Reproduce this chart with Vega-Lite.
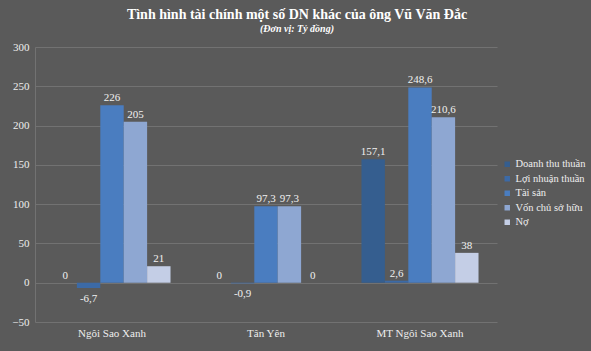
{
  "$schema": "https://vega.github.io/schema/vega-lite/v6.json",
  "width": 462,
  "height": 275,
  "autosize": {"type": "none"},
  "padding": {"left": 35, "top": 47, "right": 94, "bottom": 29},
  "background": "#5a5a5a",
  "config": {
    "view": {"stroke": null},
    "font": "Liberation Serif",
    "axis": {"labelFont": "Liberation Serif"},
    "legend": {"labelFont": "Liberation Serif"},
    "text": {"font": "Liberation Serif"},
    "title": {"font": "Liberation Serif", "subtitleFont": "Liberation Serif"}
  },
  "title": {
    "text": "Tình hình tài chính một số DN khác của ông Vũ Văn Đắc",
    "subtitle": "(Đơn vị: Tỷ đồng)",
    "fontSize": 14,
    "fontWeight": "bold",
    "color": "#ffffff",
    "subtitleFontSize": 10,
    "subtitleFontStyle": "italic",
    "subtitleFontWeight": "bold",
    "subtitleColor": "#ffffff",
    "subtitlePadding": 2,
    "anchor": "middle",
    "dx": 31,
    "offset": 7
  },
  "data": {
    "values": [
      {"company": "Ngôi Sao Xanh", "metric": "Doanh thu thuần", "value": 0, "label": "0"},
      {"company": "Ngôi Sao Xanh", "metric": "Lợi nhuận thuần", "value": -6.7, "label": "-6,7"},
      {"company": "Ngôi Sao Xanh", "metric": "Tài sản", "value": 226, "label": "226"},
      {"company": "Ngôi Sao Xanh", "metric": "Vốn chủ sở hữu", "value": 205, "label": "205"},
      {"company": "Ngôi Sao Xanh", "metric": "Nợ", "value": 21, "label": "21"},
      {"company": "Tân Yên", "metric": "Doanh thu thuần", "value": 0, "label": "0"},
      {"company": "Tân Yên", "metric": "Lợi nhuận thuần", "value": -0.9, "label": "-0,9"},
      {"company": "Tân Yên", "metric": "Tài sản", "value": 97.3, "label": "97,3"},
      {"company": "Tân Yên", "metric": "Vốn chủ sở hữu", "value": 97.3, "label": "97,3"},
      {"company": "Tân Yên", "metric": "Nợ", "value": 0, "label": "0"},
      {"company": "MT Ngôi Sao Xanh", "metric": "Doanh thu thuần", "value": 157.1, "label": "157,1"},
      {"company": "MT Ngôi Sao Xanh", "metric": "Lợi nhuận thuần", "value": 2.6, "label": "2,6"},
      {"company": "MT Ngôi Sao Xanh", "metric": "Tài sản", "value": 248.6, "label": "248,6"},
      {"company": "MT Ngôi Sao Xanh", "metric": "Vốn chủ sở hữu", "value": 210.6, "label": "210,6"},
      {"company": "MT Ngôi Sao Xanh", "metric": "Nợ", "value": 38, "label": "38"}
    ]
  },
  "encoding": {
    "x": {
      "field": "company",
      "type": "nominal",
      "sort": ["Ngôi Sao Xanh", "Tân Yên", "MT Ngôi Sao Xanh"],
      "scale": {"paddingInner": 0.24, "paddingOuter": 0.12},
      "axis": {
        "title": null,
        "labelAngle": 0,
        "labelFont": "Liberation Serif",
        "labelFontSize": 11,
        "labelColor": "#eeeeee",
        "labelPadding": 5,
        "ticks": false,
        "domain": false
      }
    },
    "xOffset": {
      "field": "metric",
      "type": "nominal",
      "sort": ["Doanh thu thuần", "Lợi nhuận thuần", "Tài sản", "Vốn chủ sở hữu", "Nợ"],
      "scale": {"paddingInner": 0, "paddingOuter": 0}
    },
    "y": {
      "field": "value",
      "type": "quantitative",
      "scale": {"domain": [-50, 300], "nice": false, "zero": true},
      "axis": {
        "title": null,
        "values": [-50, 0, 50, 100, 150, 200, 250, 300],
        "labelFont": "Liberation Serif",
        "labelFontSize": 11,
        "labelColor": "#eeeeee",
        "labelPadding": 6,
        "ticks": false,
        "domain": true,
        "domainColor": "#727272",
        "gridColor": "#727272",
        "gridWidth": 1
      }
    }
  },
  "layer": [
    {
      "mark": {"type": "bar"},
      "encoding": {
        "color": {
          "field": "metric",
          "type": "nominal",
          "sort": ["Doanh thu thuần", "Lợi nhuận thuần", "Tài sản", "Vốn chủ sở hữu", "Nợ"],
          "scale": {
            "domain": ["Doanh thu thuần", "Lợi nhuận thuần", "Tài sản", "Vốn chủ sở hữu", "Nợ"],
            "range": ["#355e8f", "#3c6aa6", "#4a7dc0", "#8ea7d2", "#c4cee6"]
          },
          "legend": {
            "title": null,
            "orient": "none",
            "legendX": 467,
            "legendY": 112,
            "symbolType": "square",
            "symbolSize": 30,
            "symbolStrokeWidth": 0,
            "labelFont": "Liberation Serif",
            "labelFontSize": 10.5,
            "labelColor": "#eeeeee",
            "rowPadding": 3.5,
            "labelOffset": 3
          }
        }
      }
    },
    {
      "transform": [{"filter": "datum.value >= 0"}],
      "mark": {"type": "text", "baseline": "alphabetic", "dy": -4, "font": "Liberation Serif", "fontSize": 11, "color": "#f0f0f0"},
      "encoding": {"text": {"field": "label"}}
    },
    {
      "transform": [{"filter": "datum.value < 0"}],
      "mark": {"type": "text", "baseline": "top", "dy": 5, "font": "Liberation Serif", "fontSize": 11, "color": "#f0f0f0"},
      "encoding": {"text": {"field": "label"}}
    }
  ]
}
